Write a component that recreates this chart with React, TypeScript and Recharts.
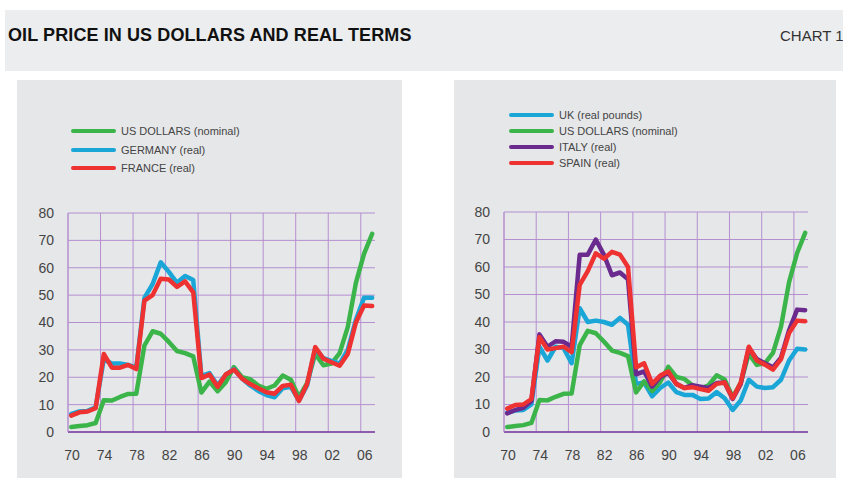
import {LineChart, Line, XAxis, YAxis, ReferenceLine} from 'recharts';

const years = [
    1970, 1971, 1972, 1973, 1974, 1975, 1976, 1977, 1978, 1979,
    1980, 1981, 1982, 1983, 1984, 1985, 1986, 1987, 1988, 1989,
    1990, 1991, 1992, 1993, 1994, 1995, 1996, 1997, 1998, 1999,
    2000, 2001, 2002, 2003, 2004, 2005, 2006, 2007,
];

const usNominal = [1.8, 2.2, 2.5, 3.3, 11.6, 11.5, 12.8, 13.9, 14.0, 31.6, 36.8, 35.9, 32.9, 29.6, 28.8, 27.6, 14.4, 18.4, 14.9, 18.2, 23.7, 20.0, 19.3, 17.0, 15.8, 17.0, 20.6, 19.1, 12.7, 17.9, 28.5, 24.4, 25.0, 28.8, 38.3, 54.5, 65.1, 72.4];
const germany = [6.6, 7.5, 7.7, 9.0, 26.5, 25.0, 25.0, 24.5, 23.5, 49.0, 54.0, 62.0, 58.5, 54.5, 57.0, 55.5, 20.5, 21.5, 17.0, 21.0, 23.0, 19.5, 17.0, 15.0, 13.5, 12.7, 16.0, 16.5, 11.5, 17.0, 30.5, 27.0, 26.0, 25.0, 30.0, 41.0, 49.0, 49.0];
const france = [6.0, 7.2, 7.5, 8.7, 28.5, 23.5, 23.5, 24.5, 23.0, 48.0, 50.0, 56.0, 55.7, 53.0, 55.0, 51.0, 19.7, 21.0, 16.5, 21.0, 22.8, 19.5, 17.5, 16.0, 14.5, 14.0, 16.8, 17.3, 11.3, 17.5, 31.0, 26.8, 25.5, 24.2, 28.5, 40.0, 46.2, 46.0];
const ukReal = [7.0, 7.8, 8.0, 10.0, 31.0, 26.0, 31.0, 30.5, 25.0, 45.0, 40.0, 40.5, 40.0, 39.0, 41.5, 39.0, 17.5, 18.0, 13.0, 16.0, 18.0, 14.5, 13.5, 13.5, 12.0, 12.2, 14.5, 12.3, 8.0, 11.5, 19.0, 16.5, 16.0, 16.3, 19.0, 26.0, 30.3, 30.0];
const italy = [6.8, 8.0, 8.8, 11.3, 35.5, 31.0, 33.0, 32.8, 31.0, 64.5, 64.5, 70.0, 64.5, 57.0, 58.0, 55.5, 21.0, 22.0, 16.5, 20.0, 21.5, 17.5, 16.0, 17.0, 16.5, 16.0, 17.8, 18.0, 12.0, 17.5, 30.5, 26.5, 25.0, 23.5, 27.0, 37.0, 44.5, 44.3];
const spain = [8.5, 9.8, 10.0, 12.0, 34.5, 30.0, 30.5, 31.0, 29.0, 53.5, 58.5, 65.0, 63.0, 65.5, 64.5, 60.0, 23.5, 25.0, 17.5, 20.5, 22.0, 17.5, 16.0, 16.3, 15.6, 15.0, 17.5, 18.0, 12.3, 18.0, 31.0, 26.0, 24.5, 22.7, 26.5, 36.0, 40.5, 40.3];

const xTicks = [1970, 1974, 1978, 1982, 1986, 1990, 1994, 1998, 2002, 2006];
const yTicks = [0, 10, 20, 30, 40, 50, 60, 70, 80];

const GREEN = '#3bb44a';
const BLUE = '#1aa6d6';
const RED = '#ee3131';
const PURPLE = '#6b2a8e';
const GRID = '#b58fd0';
const AXIS = '#7a3ea0';
const FONT = '"Liberation Sans", Arial, sans-serif';

// points sit a little inside each year
const data = years.map((y, i) => ({
    x: y + 0.4,
    us: usNominal[i],
    de: germany[i],
    fr: france[i],
    uk: ukReal[i],
    it: italy[i],
    es: spain[i],
}));

type Series = {key: string; name: string; color: string};

const leftSeries: Series[] = [
    {key: 'us', name: 'US DOLLARS (nominal)', color: GREEN},
    {key: 'de', name: 'GERMANY (real)', color: BLUE},
    {key: 'fr', name: 'FRANCE (real)', color: RED},
];
const rightSeries: Series[] = [
    {key: 'uk', name: 'UK (real pounds)', color: BLUE},
    {key: 'us', name: 'US DOLLARS (nominal)', color: GREEN},
    {key: 'it', name: 'ITALY (real)', color: PURPLE},
    {key: 'es', name: 'SPAIN (real)', color: RED},
];

function Key(props: {series: Series[]; rowH: number; top: number; left: number}) {
    return (
        <div style={{position: 'absolute', top: props.top, left: props.left}}>
            {props.series.map(s => (
                <div key={s.key} style={{display: 'flex', alignItems: 'center', height: props.rowH}}>
                    <div style={{width: 45, height: 4, borderRadius: 2, background: s.color, marginRight: 5}}/>
                    <span style={{fontFamily: FONT, fontSize: 11, color: '#444'}}>{s.name}</span>
                </div>
            ))}
        </div>
    );
}

function Panel(props: {left: number; width: number; series: Series[]; drawOrder: string[];
    legendTop: number; legendLeft: number; rowH: number; top: number; yWidth: number; right: number}) {
    const {left, width, series, drawOrder} = props;
    const tickStyle = {fontFamily: FONT, fontSize: 14, fill: '#444'};
    return (
        <div style={{position: 'absolute', left, top: 80, width, height: 398, background: '#e6e7e9'}}>
            <Key series={series} rowH={props.rowH} top={props.legendTop} left={props.legendLeft}/>
            <div style={{position: 'absolute', left: 0, top: 0}}>
                <LineChart width={width} height={398} data={data}
                           margin={{top: props.top, right: props.right, left: 0, bottom: 0}}>
                    {yTicks.map(t => <ReferenceLine key={'y' + t} y={t} stroke={GRID} strokeWidth={1}/>)}
                    {xTicks.map(t => <ReferenceLine key={'x' + t} x={t} stroke={GRID} strokeWidth={1}/>)}
                    <XAxis dataKey="x" type="number" domain={[1970, 2007.75]} ticks={xTicks} interval={0}
                           tickFormatter={(v: number) => String(v).slice(2)} height={46}
                           tickLine={false} axisLine={{stroke: AXIS, strokeWidth: 1.5}}
                           tick={{...tickStyle, dx: 4}} tickMargin={12} allowDataOverflow/>
                    <YAxis type="number" domain={[0, 80]} ticks={yTicks} width={props.yWidth} interval={0}
                           tickLine={false} axisLine={{stroke: GRID}} tick={tickStyle} tickMargin={8}/>
                    {drawOrder.map(k => {
                        const s = series.find(q => q.key === k)!;
                        return <Line key={k} type="linear" dataKey={k} name={s.name} stroke={s.color}
                                     strokeWidth={4.5} dot={false} isAnimationActive={false}
                                     strokeLinejoin="round" strokeLinecap="round"/>;
                    })}
                </LineChart>
            </div>
        </div>
    );
}

export default function App() {
    return (
        <div style={{position: 'absolute', left: 0, top: 0, width: 843, height: 480, background: '#fff', overflow: 'hidden'}}>
            <div style={{position: 'absolute', left: 5, top: 10, width: 838, height: 61, background: '#ecedee'}}/>
            <div style={{position: 'absolute', left: 8, top: 25, fontFamily: FONT, fontWeight: 'bold', fontSize: 18,
                color: '#111', whiteSpace: 'nowrap', letterSpacing: 0.1}}>
                OIL PRICE IN US DOLLARS AND REAL TERMS
            </div>
            <div style={{position: 'absolute', left: 780, top: 27, fontFamily: FONT, fontSize: 15,
                color: '#333', whiteSpace: 'nowrap'}}>
                CHART 1
            </div>
            <Panel left={17} width={385} series={leftSeries} drawOrder={['us', 'de', 'fr']}
                   legendTop={42} legendLeft={54} rowH={18.5} top={133} yWidth={51} right={27}/>
            <Panel left={454} width={382} series={rightSeries} drawOrder={['uk', 'us', 'it', 'es']}
                   legendTop={27} legendLeft={55} rowH={16} top={132} yWidth={50} right={28}/>
        </div>
    );
}
